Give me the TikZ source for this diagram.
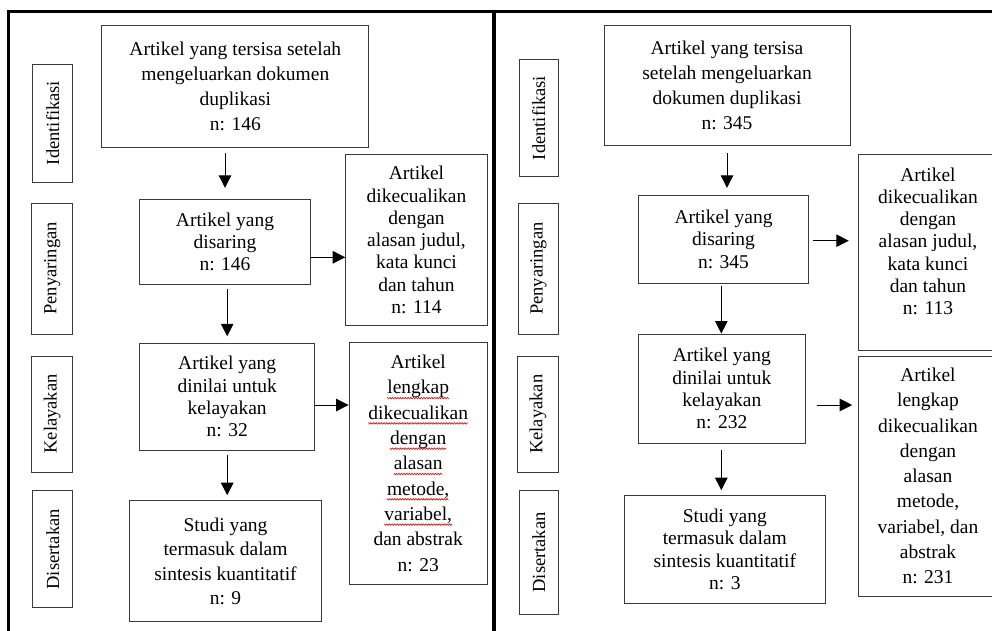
\documentclass[tikz,border=0pt]{standalone}
\usepackage{fontspec}
\setmainfont{Liberation Serif}
\usetikzlibrary{arrows.meta}
\definecolor{boxgray}{HTML}{3A3A3A}
\newcount\wvn
\newdimen\wvx
\makeatletter
\def\wavebox#1{%
  \begingroup
  \wvx=0pt
  \def\wvpath{q 0.85 0.1 0.1 RG 0.7 w 0 -3.4 m}%
  \wvn=0
  \loop
    \advance\wvx by 1.3pt
    \advance\wvn by 1
  \ifdim\wvx<#1
    \ifodd\wvn
      \edef\wvpath{\wvpath\space\strip@pt\wvx\space -4.9 l}%
    \else
      \edef\wvpath{\wvpath\space\strip@pt\wvx\space -3.4 l}%
    \fi
  \repeat
  \edef\wvpath{\wvpath\space S Q}%
  \special{pdf:literal \wvpath}%
  \endgroup}
\makeatother
\newcommand\redwave[1]{\setbox0\hbox{#1}\leavevmode\rlap{\wavebox{\wd0}}\box0}
\tikzset{
  box/.style={draw=boxgray, line width=1pt, inner sep=0pt, align=center, font=\fontsize{19.5}{25}\selectfont},
  tbox/.style={box, font=\fontsize{19.5}{22.3}\selectfont},
  lab/.style={draw=boxgray, line width=1pt, rotate=90, inner sep=0pt, font=\fontsize{18.5}{20}\selectfont},
  arr/.style={line width=1pt, -{Triangle[width=12.5pt,length=12.5pt]}},
  frame/.style={line width=3pt, black}
}
\begin{document}
\begin{tikzpicture}[x=1pt,y=-1pt]
\useasboundingbox (0,0) rectangle (992,630);
\clip (0,0) rectangle (992,630);
\fill[white] (0,0) rectangle (992,630);
% frame
\coordinate (ftl) at (8.5,11.7);
\coordinate (ftr) at (995,11.7);
\coordinate (fbl) at (8.5,635);
\coordinate (dtop) at (494,11.7);
\coordinate (dbot) at (494,635);
\draw[frame] (fbl) -- (ftl) -- (ftr);
\draw[line width=4pt] (dtop) -- (dbot);

% ---------------- left panel ----------------
\node[lab, minimum width=118pt, minimum height=39.7pt] (lid) at (52.8,123) {Identifikasi};
\node[lab, minimum width=131pt, minimum height=41pt] (lpen) at (52.2,268.5) {Penyaringan};
\node[lab, minimum width=116pt, minimum height=41pt] (lkel) at (52.2,414) {Kelayakan};
\node[lab, minimum width=117.3pt, minimum height=39.7pt] (ldis) at (52.8,549.3) {Disertakan};

\node[box, minimum width=266.7pt, minimum height=122pt] (lb1) at (235.3,86)
  {Artikel yang tersisa setelah\\ mengeluarkan dokumen\\ duplikasi\\ n: 146};
\node[tbox, minimum width=170.6pt, minimum height=85pt] (lb2) at (225,241.8)
  {Artikel yang\\ disaring\\ n: 146};
\node[tbox, minimum width=175pt, minimum height=106.7pt] (lb3) at (227.2,396.7)
  {Artikel yang\\ dinilai untuk\\ kelayakan\\ n: 32};
\node[box, font=\fontsize{19.5}{24.4}\selectfont, minimum width=192.4pt, minimum height=121pt] (lb4) at (225.5,561.2)
  {Studi yang\\ termasuk dalam\\ sintesis kuantitatif\\ n: 9};
\node[tbox, minimum width=141.6pt, minimum height=171.4pt] (le1) at (416.5,240)
  {Artikel\\ dikecualikan\\ dengan\\ alasan judul,\\ kata kunci\\ dan tahun\\ n: 114};
\node[box, font=\fontsize{19.5}{25.3}\selectfont, minimum width=138.3pt, minimum height=241.7pt] (le2) at (418.2,463.2)
  {Artikel\\ \redwave{lengkap}\\ \redwave{dikecualikan}\\ \redwave{dengan}\\ \redwave{alasan}\\ \redwave{metode,}\\ \redwave{variabel,}\\ dan abstrak\\ n: 23};

\draw[arr, shorten <=5.7pt, shorten >=11pt] (lb1.south -| lb2.north) -- (lb2.north);
\draw[arr, shorten <=4.4pt, shorten >=6.6pt] (lb2.south -| lb3.north) -- (lb3.north);
\draw[arr, shorten <=4.3pt, shorten >=5pt] (lb3.south) -- (lb3.south |- lb4.north);
\draw[arr] ([yshift=-15.5pt]lb2.east) -- ([yshift=-15.5pt]lb2.east -| le1.west);
\draw[arr] ([yshift=-8.3pt]lb3.east) -- ([yshift=-8.3pt]lb3.east -| le2.west);

% ---------------- right panel ----------------
\node[lab, minimum width=117.4pt, minimum height=38.7pt] (rid) at (538.7,118) {Identifikasi};
\node[lab, minimum width=130.7pt, minimum height=39.3pt] (rpen) at (538.4,268.7) {Penyaringan};
\node[lab, minimum width=116.3pt, minimum height=40.3pt] (rkel) at (537.9,414.2) {Kelayakan};
\node[lab, minimum width=123.3pt, minimum height=38.7pt] (rdis) at (538.7,552.4) {Disertakan};

\node[box, minimum width=246pt, minimum height=120.4pt] (rb1) at (727,85.5)
  {Artikel yang tersisa\\ setelah mengeluarkan\\ dokumen duplikasi\\ n: 345};
\node[tbox, minimum width=170.4pt, minimum height=88pt] (rb2) at (723.5,239.3)
  {Artikel yang\\ disaring\\ n: 345};
\node[tbox, minimum width=167pt, minimum height=109.3pt] (rb3) at (721.8,388.7)
  {Artikel yang\\ dinilai untuk\\ kelayakan\\ n: 232};
\node[tbox, minimum width=201pt, minimum height=107.6pt] (rb4) at (724.8,549.5)
  {Studi yang\\ termasuk dalam\\ sintesis kuantitatif\\ n: 3};
\node[tbox, minimum width=140pt, minimum height=195.7pt] (re1) at (928,252.2)
  {Artikel\\ dikecualikan\\ dengan\\ alasan judul,\\ kata kunci\\ dan tahun\\ n: 113\rule[-22pt]{0pt}{0pt}};
\node[box, font=\fontsize{19.5}{25.3}\selectfont, minimum width=140pt, minimum height=240pt] (re2) at (928,476)
  {Artikel\\ lengkap\\ dikecualikan\\ dengan\\ alasan\\ metode,\\ variabel, dan\\ abstrak\\ n: 231};

\draw[arr, shorten <=7pt, shorten >=7pt] (rb1.south) -- (rb1.south |- rb2.north);
\draw[arr, shorten <=1.7pt] (rb2.south -| 721.3,0) -- (rb3.north -| 721.3,0);
\draw[arr, shorten <=6pt, shorten >=5pt] (rb3.south -| 721.3,0) -- (rb4.north -| 721.3,0);
\draw[arr, shorten <=4pt, shorten >=8.7pt] ([yshift=-1.4pt]rb2.east) -- ([yshift=-1.4pt]rb2.east -| re1.west);
\draw[arr, shorten <=10.7pt, shorten >=5.3pt] ([yshift=-16.3pt]rb3.east) -- ([yshift=-16.3pt]rb3.east -| re2.west);
\end{tikzpicture}
\end{document}
